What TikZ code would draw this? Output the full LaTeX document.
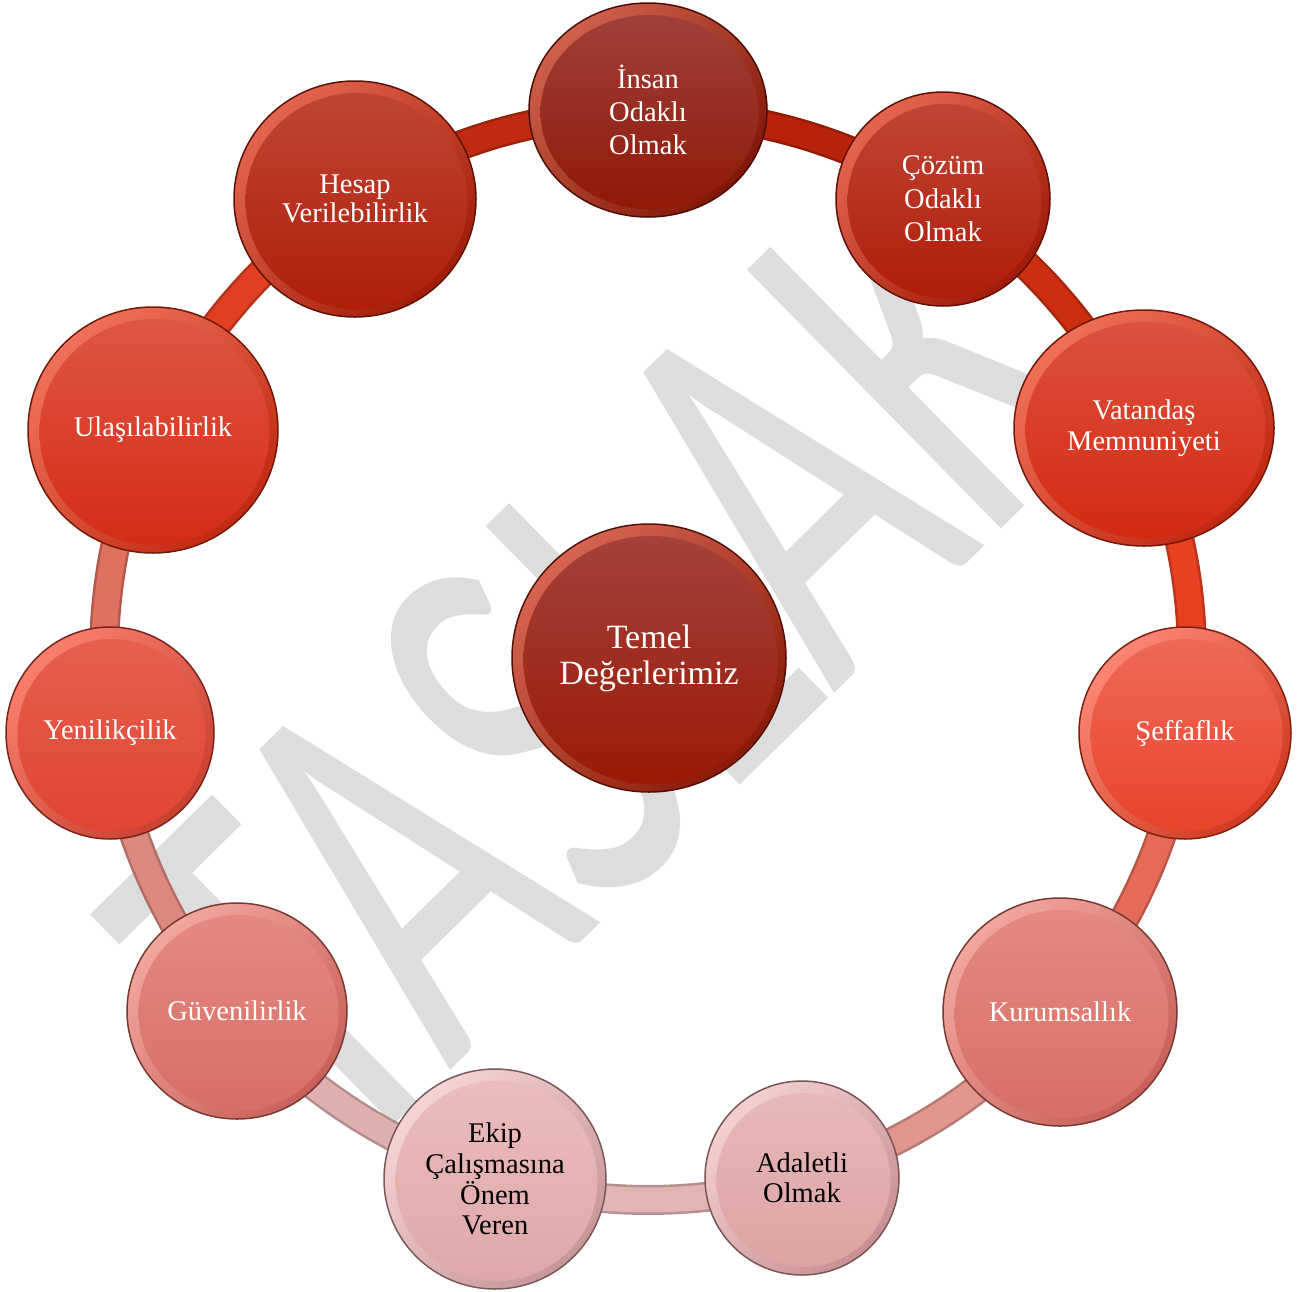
\documentclass[tikz,border=0pt]{standalone}
\usepackage{fontspec}
\setmainfont{Liberation Serif}
\newfontfamily\wmfont{Carlito}
\usetikzlibrary{shapes.geometric}

\definecolor{wm}{HTML}{DDDDDD}
% bead colours: T face top, B face bottom, R rim light, D rim dark
\definecolor{cmT}{HTML}{A4413A}\definecolor{cmB}{HTML}{9A1906}\definecolor{cmR}{HTML}{E8705A}\definecolor{cmD}{HTML}{8A1A08}
\definecolor{c0T}{HTML}{A0403A}\definecolor{c0B}{HTML}{901806}\definecolor{c0R}{HTML}{E06A52}\definecolor{c0D}{HTML}{821606}
\definecolor{c1T}{HTML}{C04536}\definecolor{c1B}{HTML}{B01C08}\definecolor{c1R}{HTML}{F07058}\definecolor{c1D}{HTML}{A01A08}
\definecolor{c2T}{HTML}{DD5040}\definecolor{c2B}{HTML}{D42A10}\definecolor{c2R}{HTML}{F57A60}\definecolor{c2D}{HTML}{C02810}
\definecolor{c3T}{HTML}{F06858}\definecolor{c3B}{HTML}{E84428}\definecolor{c3R}{HTML}{FF9080}\definecolor{c3D}{HTML}{D03A20}
\definecolor{c4T}{HTML}{E48A82}\definecolor{c4B}{HTML}{D86E66}\definecolor{c4R}{HTML}{F8B0A8}\definecolor{c4D}{HTML}{C86058}
\definecolor{c5T}{HTML}{E8B8B8}\definecolor{c5B}{HTML}{DCA4A2}\definecolor{c5R}{HTML}{F8D8D8}\definecolor{c5D}{HTML}{C89090}
\definecolor{c6T}{HTML}{ECBCBC}\definecolor{c6B}{HTML}{DEA8A8}\definecolor{c6R}{HTML}{FADCDC}\definecolor{c6D}{HTML}{C89696}
\definecolor{c7T}{HTML}{E48A82}\definecolor{c7B}{HTML}{D86E66}\definecolor{c7R}{HTML}{F8B0A8}\definecolor{c7D}{HTML}{C86058}
\definecolor{c8T}{HTML}{E85E4E}\definecolor{c8B}{HTML}{E04532}\definecolor{c8R}{HTML}{FF8A78}\definecolor{c8D}{HTML}{C84030}
\definecolor{c9T}{HTML}{E05545}\definecolor{c9B}{HTML}{D42C14}\definecolor{c9R}{HTML}{F57A62}\definecolor{c9D}{HTML}{C02A10}
\definecolor{caT}{HTML}{BE4535}\definecolor{caB}{HTML}{B01E08}\definecolor{caR}{HTML}{F07058}\definecolor{caD}{HTML}{A01C08}
% ring segment colours
\definecolor{s01}{HTML}{B82208}
\definecolor{s12}{HTML}{CC2E10}
\definecolor{s23}{HTML}{E84020}
\definecolor{s34}{HTML}{E66A58}
\definecolor{s45}{HTML}{E2968E}
\definecolor{s56}{HTML}{E2B4B2}
\definecolor{s67}{HTML}{DFB0AE}
\definecolor{s78}{HTML}{DC8A80}
\definecolor{s89}{HTML}{E07060}
\definecolor{s9a}{HTML}{E04020}
\definecolor{sa0}{HTML}{C02A10}

\tikzset{
  beadlabel/.style={ellipse, inner sep=0pt, align=center, font=\fontsize{28.5}{32.5}\selectfont},
  ringedge/.style={line width=30pt},
  ringcore/.style={line width=25pt},
}

% #1 start angle, #2 end angle (xy angles), #3 colour
\newcommand\ringseg[3]{%
  \draw[ringedge, draw=#3!80!black] (ctr) ++(#1:544) arc[start angle=#1, end angle=#2, radius=544];
  \draw[ringcore, draw=#3] (ctr) ++(#1:544) arc[start angle=#1, end angle=#2, radius=544];
}
% #1 name, #2 x, #3 y, #4 rx, #5 ry, #6 colour prefix, #7 text colour, #8 text, #9 extra node options
\newcommand\bead[9]{%
  \path[top color=#6R!75!#6T, bottom color=#6D, shading angle=45, draw=#6D!60!black, line width=1.5pt]
    (#2,#3) ellipse [x radius=#4, y radius=#5];
  \path[top color=#6T, bottom color=#6B] (#2+1.5,#3+2) ellipse [x radius=#4-10, y radius=#5-10];
  \node[beadlabel, text=#7, minimum width=2*#4, minimum height=2*#5, #9] (#1) at (#2,#3) {#8};
}

\begin{document}
\begin{tikzpicture}[x=1pt,y=-1pt]
\useasboundingbox (0,0) rectangle (1299,1291);
\fill[white] (0,0) rectangle (1299,1291);
% watermark
\node[rotate=44.5, xscale=0.653, inner sep=0pt, text=wm,
      font=\wmfont\fontsize{565}{600}\selectfont] (wmark) at (605,664) {TASLAK};
% ring
\coordinate (ctr) at (648,656);
\ringseg{-90}{-57.27}{s01}
\ringseg{-57.27}{-24.55}{s12}
\ringseg{-24.55}{8.18}{s23}
\ringseg{8.18}{40.91}{s34}
\ringseg{40.91}{73.64}{s45}
\ringseg{73.64}{106.36}{s56}
\ringseg{106.36}{139.09}{s67}
\ringseg{139.09}{171.82}{s78}
\ringseg{171.82}{204.55}{s89}
\ringseg{204.55}{237.27}{s9a}
\ringseg{237.27}{270}{sa0}
% beads
\bead{insan}{648}{110}{119}{107}{c0}{white}{İnsan\\Odaklı\\Olmak}{font=\fontsize{28.5}{33}\selectfont}
\bead{cozum}{943}{199}{107}{107}{c1}{white}{Çözüm\\Odaklı\\Olmak}{font=\fontsize{28.5}{33.5}\selectfont}
\bead{vatandas}{1144}{428}{130}{118}{c2}{white}{Vatandaş\\Memnuniyeti}{font=\fontsize{28.5}{31}\selectfont}
\bead{seffaf}{1185}{733}{106}{106}{c3}{white}{Şeffaflık}{}
\bead{kurum}{1060}{1012}{117}{114}{c4}{white}{Kurumsallık}{}
\bead{adalet}{802}{1178}{97}{97}{c5}{black}{Adaletli\\Olmak}{font=\fontsize{28.5}{30}\selectfont}
\bead{ekip}{495}{1179}{111}{110}{c6}{black}{Ekip\\Çalışmasına\\Önem\\Veren}{font=\fontsize{28.5}{30.7}\selectfont}
\bead{guven}{237}{1011}{110}{108}{c7}{white}{Güvenilirlik}{}
\bead{yenilik}{110}{733}{104}{106}{c8}{white}{Yenilikçilik}{}
\bead{ulas}{153}{430}{125}{123}{c9}{white}{Ulaşılabilirlik}{}
\bead{hesap}{355}{199}{121}{118}{ca}{white}{Hesap\\Verilebilirlik}{font=\fontsize{28.5}{29.5}\selectfont}
\bead{temel}{649}{658}{137}{134}{cm}{white}{Temel\\Değerlerimiz}{font=\fontsize{34}{36}\selectfont}
\end{tikzpicture}
\end{document}
